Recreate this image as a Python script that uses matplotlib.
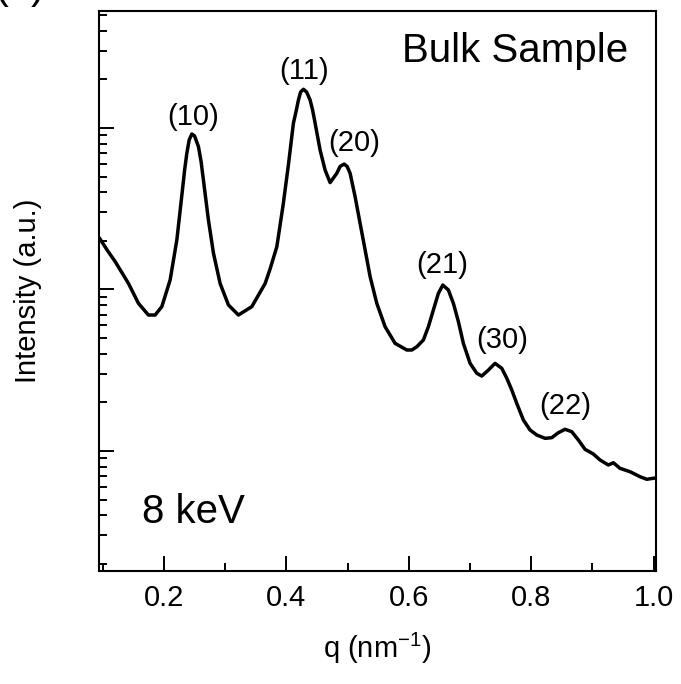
import matplotlib
matplotlib.use("Agg")
import matplotlib.pyplot as plt
from matplotlib.ticker import MultipleLocator, LogLocator, NullFormatter

plt.rcParams['font.family'] = ['Liberation Sans', 'DejaVu Sans']

# Scattering profile: q (nm^-1), intensity (a.u.)
q = [0.095, 0.1075, 0.1199, 0.1417, 0.158, 0.1743, 0.1853, 0.1962, 0.2098, 0.2208,
     0.2299, 0.2335, 0.2371, 0.2409, 0.2453, 0.2498, 0.2561, 0.2605, 0.2642, 0.2724, 0.2806,
     0.2915, 0.3051, 0.3214, 0.3433, 0.3651, 0.3732, 0.3842, 0.3945, 0.4031,
     0.4113, 0.4161, 0.4195, 0.4231, 0.4277, 0.4329, 0.4386, 0.4427, 0.4468, 0.4549, 0.4631,
     0.4713, 0.4822, 0.4876, 0.4942, 0.4991, 0.504, 0.5121, 0.5203, 0.5285,
     0.5367, 0.5476, 0.5612, 0.5775, 0.5966, 0.6048, 0.613, 0.6238, 0.6319,
     0.6401, 0.6483, 0.6555, 0.6646, 0.6728, 0.681, 0.6891, 0.7001, 0.711,
     0.7192, 0.73, 0.7409, 0.7519, 0.7601, 0.7682, 0.7764, 0.7872, 0.7981,
     0.8091, 0.8227, 0.8336, 0.8444, 0.8553, 0.8663, 0.8771, 0.888, 0.9016,
     0.9125, 0.9261, 0.9343, 0.9452, 0.9616, 0.9779, 0.9889, 0.9997]
intensity = [20.6, 17.4, 14.9, 10.9, 8.21, 6.95, 6.95, 7.83, 11.45, 20.3,
             41.3, 55.0, 69.7, 84.3, 91.8, 89.2, 76.6, 61.6, 47.6, 26.9, 16.8,
             10.9, 8.02, 6.95, 7.83, 10.9, 13.4, 18.4, 33.4, 59.0,
             107, 129, 149, 167, 173.6, 167, 149, 129, 107, 73.1, 54.9,
             45.9, 52.4, 57.8, 59.8, 57.8, 52.4, 37.6, 25.7, 17.6,
             12.0, 8.21, 5.88, 4.64, 4.22, 4.22, 4.42, 4.87, 5.88,
             7.47, 9.47, 10.66, 9.93, 8.21, 6.32, 4.64, 3.49, 3.03,
             2.91, 3.17, 3.49, 3.25, 2.82, 2.39, 1.97, 1.556, 1.349,
             1.256, 1.198, 1.209, 1.298, 1.363, 1.317, 1.170, 1.024, 0.958,
             0.880, 0.819, 0.846, 0.781, 0.744, 0.693, 0.668, 0.678]

peak_labels = ['(10)', '(11)', '(20)', '(21)', '(30)', '(22)']
peak_label_q = [0.2479, 0.4286, 0.510, 0.6543, 0.752, 0.8562]
peak_label_I = [117, 225, 81.3, 14.2, 4.87, 1.90]

fig = plt.figure(figsize=(6.81, 6.84), dpi=100)
ax = fig.add_axes([0.1458, 0.1652, 0.8175, 0.8187])

ax.plot(q, intensity, color='black', lw=2.5, solid_joinstyle='round')
ax.set_yscale('log')
ax.set_xlim(0.094, 1.004)
ax.set_ylim(0.1807, 530)

ax.xaxis.set_minor_locator(MultipleLocator(0.1))
ax.set_xticks([0.2, 0.4, 0.6, 0.8, 1.0])
ax.set_xticklabels(['0.2', '0.4', '0.6', '0.8', '1.0'])
ax.yaxis.set_major_locator(LogLocator(base=10, numticks=10))
ax.yaxis.set_minor_locator(LogLocator(base=10, subs=range(2, 10), numticks=20))
ax.yaxis.set_minor_formatter(NullFormatter())

ax.tick_params(which='both', direction='in', top=False, right=False,
               width=1.4, labelleft=False)
ax.tick_params(which='major', length=10.5, pad=9, labelsize=21)
ax.tick_params(which='minor', length=5.8)
for s in ax.spines.values():
    s.set_linewidth(1.5)

ax.set_xlabel('q (nm$^{\\mathregular{-1}}$)', fontsize=21, labelpad=14)
ax.set_ylabel('Intensity (a.u.)', fontsize=21)
ax.yaxis.set_label_coords(-0.103, 0.5)

for lab, xq, yi in zip(peak_labels, peak_label_q, peak_label_I):
    ax.text(xq, yi, lab, fontsize=21, ha='center', va='center')

ax.text(0.9497, 0.9095, 'Bulk Sample', transform=ax.transAxes, fontsize=29,
        ha='right', va='baseline')
ax.text(0.0762, 0.0863, '8 keV', transform=ax.transAxes, fontsize=29,
        ha='left', va='baseline')
fig.text(-6 / 681, 1 + 1.8 / 684, '(a)', fontsize=30, ha='left', va='baseline')

fig.savefig('out.png', dpi=100)
